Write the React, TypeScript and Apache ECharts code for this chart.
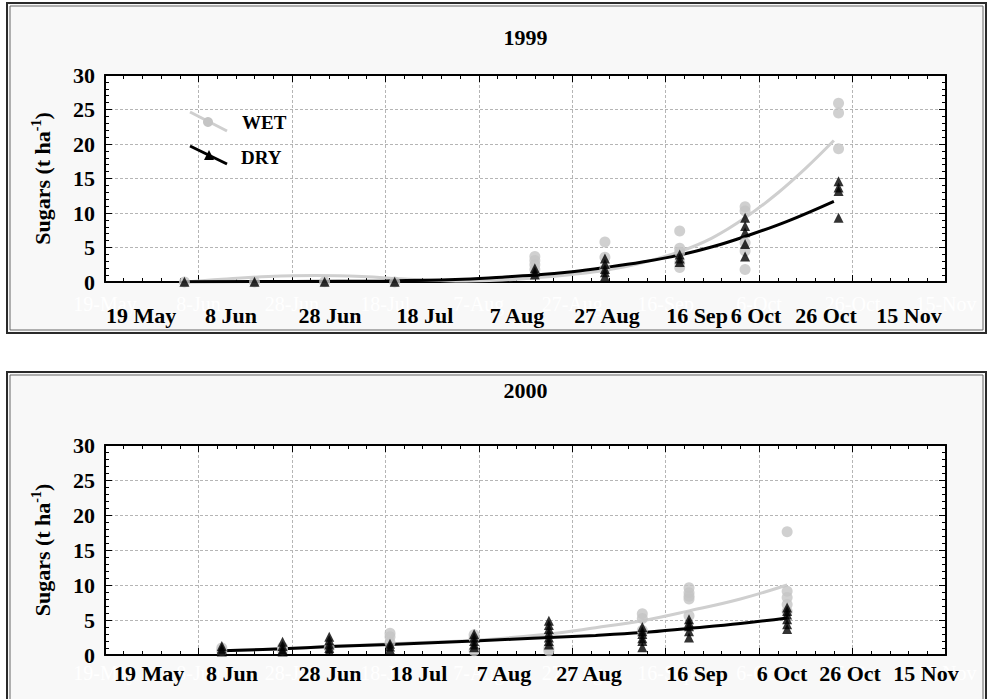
import React, { useEffect, useRef } from "react";
import * as echarts from "echarts";

const FONT = '"Liberation Serif", "Times New Roman", Times, serif';

// x axis: days after 19 May, 20-day ticks
const tickLabels = ["19 May", "8 Jun", "28 Jun", "18 Jul", "7 Aug", "27 Aug", "16 Sep", "6 Oct", "26 Oct", "15 Nov"];
const ghostTickLabels = ["19-May", "8-Jun", "28-Jun", "18-Jul", "7-Aug", "27-Aug", "16-Sep", "6-Oct", "26-Oct", "15-Nov"];
const yTickLabels = ["0", "5", "10", "15", "20", "25", "30"];
const panelTitles = ["1999", "2000"];
const legendNames = ["WET", "DRY"];

// ---- 1999 ----
const sampleDays1999 = [17, 32, 47, 62, 92, 107, 123, 137, 157];
const wet1999 = [
  [0.0], [0.0], [0.05], [0.0],
  [3.7, 3.1, 2.5, 1.8],
  [5.8, 3.6, 1.9],
  [7.4, 4.9, 4.3, 2.8, 2.1],
  [10.9, 10.3, 5.7, 4.5, 1.8],
  [25.9, 24.5, 19.3],
];
const dry1999 = [
  [0.05], [0.05], [0.05], [0.05],
  [2.0, 1.5, 1.1],
  [3.4, 2.6, 1.9, 1.4, 0.8],
  [4.0, 3.4, 2.9],
  [9.3, 8.1, 7.2, 5.5, 3.7],
  [14.6, 13.7, 13.2, 9.3],
];
const wetCurveDays1999 = [17, 25, 35, 45, 55, 65, 75, 85, 92, 100, 107, 115, 123, 130, 137, 144, 150, 156];
const wetCurve1999 = [0.0, 0.4, 0.8, 0.95, 0.8, 0.4, 0.15, 0.3, 0.6, 1.1, 1.7, 2.8, 4.4, 6.4, 9.3, 12.9, 16.5, 20.5];
const dryCurveDays1999 = [17, 40, 60, 75, 85, 92, 100, 107, 115, 123, 130, 137, 146, 156];
const dryCurve1999 = [0.05, 0.08, 0.15, 0.35, 0.7, 1.0, 1.5, 2.1, 2.9, 3.9, 5.1, 6.6, 8.8, 11.7];

// ---- 2000 ----
const sampleDays2000 = [25, 38, 48, 61, 79, 95, 115, 125, 146];
const wet2000 = [
  [1.0, 0.6],
  [1.1, 0.7],
  [1.0],
  [3.1, 2.6, 1.8],
  [2.9, 2.4, 0.6],
  [1.0, 0.6],
  [5.9, 5.2, 3.5],
  [9.6, 8.9, 8.4, 8.0, 5.6],
  [17.6, 9.1, 8.2, 7.2, 6.2],
];
const dry2000 = [
  [1.3, 0.9, 0.5],
  [1.9, 1.3, 0.8, 0.5],
  [2.6, 2.1, 1.5, 1.0, 0.6],
  [1.6, 1.2, 0.8],
  [3.0, 2.5, 2.0, 1.5, 1.1],
  [4.9, 4.3, 3.7, 3.1, 2.5, 2.0, 1.5],
  [4.0, 3.4, 3.0, 2.4, 2.0, 1.1],
  [5.1, 4.6, 4.1, 3.4, 2.5],
  [6.8, 6.3, 5.8, 5.1, 4.4, 3.7],
];
const wetCurveDays2000 = [25, 38, 48, 61, 79, 95, 105, 115, 125, 136, 146];
const wetCurve2000 = [0.6, 0.9, 1.2, 1.6, 2.1, 3.0, 3.9, 4.9, 6.3, 8.0, 10.0];
const dryCurveDays2000 = [25, 38, 48, 61, 79, 95, 105, 115, 125, 136, 146];
const dryCurve2000 = [0.6, 0.9, 1.2, 1.5, 2.0, 2.5, 2.8, 3.2, 3.8, 4.5, 5.3];

// layout (pixels)
const boldLabelX = [
  [141, 231, 330, 425, 517, 607, 697, 756, 826, 909],
  [149, 232, 330, 419, 504, 589, 697, 782, 850, 926],
];
const boldLabelY = [315, 673];
const grids = [
  { left: 105, top: 75, width: 841, height: 207 },
  { left: 105, top: 445, width: 841, height: 210 },
];
const panels = [
  { x: 7, y: 3, w: 979, h: 330, titleY: 37 },
  { x: 7, y: 372, w: 979, h: 340, titleY: 390 },
];

const WET_COLOR = "#c4c4c4";
const WET_LINE = "#cfcfcf";

function toPairs(days: number[], groups: number[][]) {
  const out: number[][] = [];
  days.forEach((d, i) => groups[i].forEach((v) => out.push([d, v])));
  return out;
}
function curve(days: number[], vals: number[]) {
  return days.map((d, i) => [d, vals[i]]);
}

const yearData = [
  {
    wet: toPairs(sampleDays1999, wet1999),
    dry: toPairs(sampleDays1999, dry1999),
    wetCurve: curve(wetCurveDays1999, wetCurve1999),
    dryCurve: curve(dryCurveDays1999, dryCurve1999),
  },
  {
    wet: toPairs(sampleDays2000, wet2000),
    dry: toPairs(sampleDays2000, dry2000),
    wetCurve: curve(wetCurveDays2000, wetCurve2000),
    dryCurve: curve(dryCurveDays2000, dryCurve2000),
  },
];

export default function App() {
  const ref = useRef<HTMLDivElement>(null);
  useEffect(() => {
    if (!ref.current) return;
    const chart = echarts.init(ref.current, undefined, { renderer: "svg" });

    const lineStyleBlack = { color: "#000", width: 2 };
    const tick = { show: true, inside: true, length: 7, lineStyle: { color: "#000", width: 1 } };
    const minor = { show: true, splitNumber: 5, length: 4, lineStyle: { color: "#000", width: 1 } };
    const split = { show: true, lineStyle: { color: "#b5b5b5", width: 1, type: [3, 2] } };

    const xAxis: any[] = [];
    const yAxis: any[] = [];
    const series: any[] = [];
    const graphic: any[] = [];

    grids.forEach((g, gi) => {
      xAxis.push({
        gridIndex: gi, type: "value", min: 0, max: 180, interval: 20, position: "bottom",
        axisLine: { show: true, onZero: false, lineStyle: lineStyleBlack },
        axisTick: tick, minorTick: minor, splitLine: split,
        axisLabel: {
          color: "#ffffff", fontFamily: FONT, fontSize: 20, margin: gi === 0 ? 12 : 8,
          showMinLabel: true, showMaxLabel: true,
          formatter: (v: number) => ghostTickLabels[Math.round(v / 20)] ?? "",
        },
      });
      xAxis.push({
        gridIndex: gi, type: "value", min: 0, max: 180, interval: 20, position: "top",
        axisLine: { show: true, onZero: false, lineStyle: lineStyleBlack },
        axisTick: tick, minorTick: minor, splitLine: { show: false }, axisLabel: { show: false },
      });
      yAxis.push({
        gridIndex: gi, type: "value", min: 0, max: 30, interval: 5, position: "left",
        axisLine: { show: true, onZero: false, lineStyle: lineStyleBlack },
        axisTick: tick, minorTick: minor, splitLine: split,
        axisLabel: {
          color: "#000", fontFamily: FONT, fontSize: 22, fontWeight: "bold", margin: 10,
          formatter: (v: number) => yTickLabels[Math.round(v / 5)] ?? "",
        },
        name: "{n|Sugars (t ha}{s|-1}{n|)}",
        nameLocation: "middle", nameRotate: 90, nameGap: 50,
        nameTextStyle: {
          rich: {
            n: { fontFamily: FONT, fontSize: 22, fontWeight: "bold", color: "#000", lineHeight: 26 },
            s: { fontFamily: FONT, fontSize: 14, fontWeight: "bold", color: "#000", verticalAlign: "top", lineHeight: 26, padding: [0, 0, 10, 0] },
          },
        },
      });
      yAxis.push({
        gridIndex: gi, type: "value", min: 0, max: 30, interval: 5, position: "right",
        axisLine: { show: true, onZero: false, lineStyle: lineStyleBlack },
        axisTick: tick, minorTick: minor, splitLine: { show: false }, axisLabel: { show: false },
      });

      const d = yearData[gi];
      const xi = gi * 2;
      const yi = gi * 2;
      series.push(
        { type: "line", xAxisIndex: xi, yAxisIndex: yi, data: d.wetCurve, smooth: 0.4, showSymbol: false, lineStyle: { color: WET_LINE, width: 3 }, z: 2 },
        { type: "line", xAxisIndex: xi, yAxisIndex: yi, data: d.dryCurve, smooth: 0.4, showSymbol: false, lineStyle: { color: "#000", width: 3 }, z: 3 },
        { type: "scatter", xAxisIndex: xi, yAxisIndex: yi, data: d.wet, symbol: "circle", symbolSize: 11, itemStyle: { color: WET_COLOR }, z: 4 },
        { type: "scatter", xAxisIndex: xi, yAxisIndex: yi, data: d.dry, symbol: "triangle", symbolSize: 10, itemStyle: { color: "#000" }, z: 5 },
      );

      const p = panels[gi];
      graphic.push(
        { type: "rect", z: -10, shape: { x: p.x, y: p.y, width: p.w, height: p.h }, style: { fill: "#f8f8f8" } },
        { type: "rect", z: 100, shape: { x: p.x, y: p.y, width: p.w, height: p.h }, style: { fill: "none", stroke: "#2a2a2a", lineWidth: 2 } },
        { type: "rect", z: 100, shape: { x: p.x + 3, y: p.y + 3, width: p.w - 6, height: p.h - 6 }, style: { fill: "none", stroke: "#666", lineWidth: 1 } },
        {
          type: "text", z: 50, x: g.left + g.width / 2, y: p.titleY,
          style: { text: panelTitles[gi], font: `bold 22px ${FONT}`, fill: "#000", align: "center", verticalAlign: "middle" },
        },
      );
      tickLabels.forEach((t, i) => {
        graphic.push({
          type: "text", z: 50, x: boldLabelX[gi][i], y: boldLabelY[gi],
          style: { text: t, font: `bold 22px ${FONT}`, fill: "#000", align: "center", verticalAlign: "middle" },
        });
      });
    });

    // legend (1999 panel)
    graphic.push(
      { type: "line", z: 50, shape: { x1: 190, y1: 112, x2: 227, y2: 131 }, style: { stroke: WET_LINE, lineWidth: 3 } },
      { type: "circle", z: 51, shape: { cx: 208, cy: 122, r: 5 }, style: { fill: WET_COLOR } },
      { type: "text", z: 50, x: 242, y: 122, style: { text: legendNames[0], font: `bold 19px ${FONT}`, fill: "#000", align: "left", verticalAlign: "middle" } },
      { type: "line", z: 50, shape: { x1: 190, y1: 146, x2: 227, y2: 164 }, style: { stroke: "#000", lineWidth: 3 } },
      { type: "polygon", z: 51, shape: { points: [[209, 150], [204, 160], [214, 160]] }, style: { fill: "#000" } },
      { type: "text", z: 50, x: 241, y: 157, style: { text: legendNames[1], font: `bold 19px ${FONT}`, fill: "#000", align: "left", verticalAlign: "middle" } },
    );

    chart.setOption({
      animation: false,
      backgroundColor: "#ffffff",
      grid: grids.map((g) => ({ ...g, show: true, backgroundColor: "#ffffff", borderWidth: 0, containLabel: false })),
      xAxis,
      yAxis,
      series,
      graphic,
    });
    return () => chart.dispose();
  }, []);
  return <div ref={ref} style={{ position: "fixed", left: 0, top: 0, width: 988, height: 699 }} />;
}
